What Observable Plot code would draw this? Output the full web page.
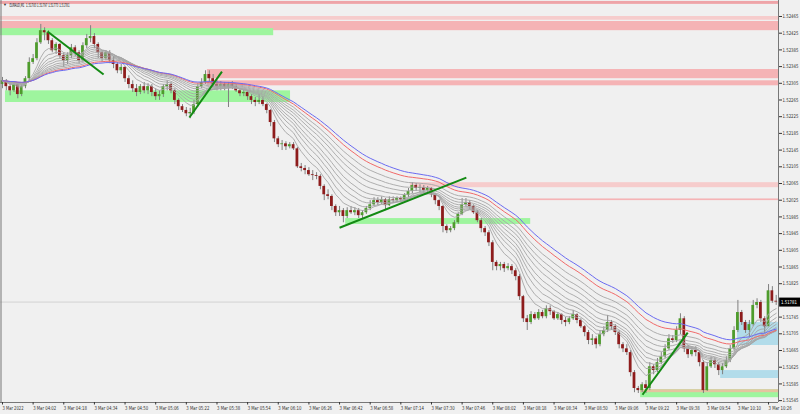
<!DOCTYPE html>
<html><head><meta charset="utf-8">
<script src="https://cdn.jsdelivr.net/npm/d3@7"></script>
<script src="https://cdn.jsdelivr.net/npm/@observablehq/plot@0.6"></script>
<style>body{margin:0;background:#f0f0f0;overflow:hidden}</style>
</head><body><div id="chart"></div>
<script>
const symbolTitle = "EURAUD,M1  1.51783 1.51797 1.51773 1.51781";
const firstOpen = 1.52302;
const closes = [
1.52311,1.52297,1.52287,1.52302,1.52278,1.52297,1.52316,1.52355,1.52364,1.52402,
1.52431,1.52426,1.52407,1.52383,1.52398,1.52371,1.52359,1.52371,1.52390,1.52378,
1.52359,1.52395,1.52412,1.52417,1.52398,1.52378,1.52364,1.52378,1.52359,1.52350,
1.52335,1.52343,1.52316,1.52302,1.52292,1.52283,1.52297,1.52287,1.52297,1.52283,
1.52273,1.52278,1.52297,1.52302,1.52287,1.52264,1.52249,1.52240,1.52232,1.52235,
1.52254,1.52297,1.52307,1.52326,1.52316,1.52302,1.52297,1.52302,1.52295,1.52302,
1.52297,1.52287,1.52280,1.52283,1.52273,1.52264,1.52259,1.52264,1.52254,1.52240,
1.52211,1.52172,1.52158,1.52160,1.52153,1.52158,1.52148,1.52105,1.52101,1.52096,
1.52086,1.52084,1.52082,1.52058,1.52038,1.52034,1.52010,1.51995,1.52000,1.51986,
1.52000,1.51995,1.52000,1.51988,1.51995,1.52005,1.52014,1.52024,1.52019,1.52026,
1.52012,1.52026,1.52024,1.52029,1.52026,1.52036,1.52046,1.52060,1.52053,1.52055,
1.52048,1.52053,1.52038,1.52024,1.52010,1.51962,1.51952,1.51957,1.51971,1.51991,
1.52014,1.52019,1.52010,1.51995,1.51976,1.51957,1.51947,1.51923,1.51876,1.51866,
1.51871,1.51861,1.51866,1.51856,1.51842,1.51794,1.51741,1.51732,1.51751,1.51741,
1.51756,1.51746,1.51765,1.51758,1.51741,1.51751,1.51737,1.51732,1.51741,1.51751,
1.51737,1.51722,1.51708,1.51689,1.51693,1.51679,1.51703,1.51713,1.51732,1.51722,
1.51708,1.51679,1.51669,1.51660,1.51612,1.51574,1.51569,1.51583,1.51574,1.51626,
1.51617,1.51636,1.51650,1.51669,1.51693,1.51689,1.51713,1.51741,1.51669,1.51655,
1.51665,1.51660,1.51636,1.51569,1.51626,1.51641,1.51631,1.51617,1.51626,1.51641,
1.51669,1.51713,1.51756,1.51732,1.51713,1.51727,1.51773,1.51780,1.51741,1.51722,
1.51808,1.51783,1.51781];
const highs = [
1.52319,1.52314,1.52304,1.52307,1.52307,1.52302,1.52321,1.52366,1.52374,1.52412,
1.52446,1.52438,1.52431,1.52412,1.52402,1.52400,1.52378,1.52378,1.52398,1.52395,
1.52383,1.52402,1.52422,1.52443,1.52424,1.52402,1.52383,1.52383,1.52383,1.52369,
1.52355,1.52350,1.52345,1.52323,1.52311,1.52302,1.52302,1.52307,1.52304,1.52302,
1.52292,1.52287,1.52302,1.52311,1.52307,1.52292,1.52268,1.52254,1.52247,1.52245,
1.52264,1.52304,1.52316,1.52335,1.52335,1.52326,1.52311,1.52309,1.52307,1.52307,
1.52309,1.52302,1.52292,1.52290,1.52287,1.52278,1.52271,1.52278,1.52273,1.52256,
1.52242,1.52216,1.52177,1.52168,1.52165,1.52163,1.52163,1.52151,1.52113,1.52108,
1.52103,1.52096,1.52091,1.52086,1.52062,1.52050,1.52038,1.52014,1.52010,1.52005,
1.52007,1.52010,1.52007,1.52005,1.52000,1.52010,1.52024,1.52031,1.52031,1.52033,
1.52029,1.52033,1.52033,1.52033,1.52033,1.52041,1.52053,1.52067,1.52065,1.52062,
1.52060,1.52058,1.52055,1.52041,1.52026,1.52012,1.51966,1.51962,1.51976,1.51995,
1.52029,1.52029,1.52024,1.52014,1.52000,1.51981,1.51962,1.51952,1.51928,1.51880,
1.51876,1.51876,1.51873,1.51871,1.51861,1.51847,1.51797,1.51749,1.51758,1.51756,
1.51763,1.51761,1.51772,1.51772,1.51761,1.51756,1.51753,1.51744,1.51746,1.51761,
1.51753,1.51741,1.51725,1.51713,1.51703,1.51698,1.51713,1.51722,1.51749,1.51737,
1.51727,1.51713,1.51684,1.51679,1.51665,1.51617,1.51579,1.51588,1.51593,1.51636,
1.51631,1.51646,1.51660,1.51679,1.51703,1.51701,1.51722,1.51753,1.51746,1.51677,
1.51674,1.51674,1.51665,1.51641,1.51636,1.51650,1.51648,1.51636,1.51634,1.51650,
1.51677,1.51722,1.51785,1.51761,1.51737,1.51737,1.51785,1.51789,1.51785,1.51746,
1.51823,1.51818,1.51797];
const lows = [
1.52292,1.52287,1.52275,1.52283,1.52268,1.52273,1.52292,1.52311,1.52350,1.52359,
1.52398,1.52407,1.52398,1.52378,1.52374,1.52364,1.52343,1.52350,1.52364,1.52369,
1.52352,1.52355,1.52388,1.52402,1.52388,1.52364,1.52355,1.52359,1.52352,1.52340,
1.52328,1.52326,1.52307,1.52292,1.52283,1.52273,1.52278,1.52280,1.52278,1.52273,
1.52264,1.52264,1.52271,1.52287,1.52280,1.52254,1.52240,1.52235,1.52225,1.52220,
1.52230,1.52249,1.52292,1.52302,1.52307,1.52295,1.52287,1.52287,1.52287,1.52247,
1.52290,1.52283,1.52273,1.52273,1.52264,1.52254,1.52249,1.52254,1.52249,1.52232,
1.52201,1.52163,1.52151,1.52144,1.52144,1.52148,1.52144,1.52101,1.52093,1.52086,
1.52082,1.52072,1.52074,1.52050,1.52024,1.52026,1.52000,1.51986,1.51986,1.51971,
1.51981,1.51991,1.51988,1.51981,1.51981,1.51991,1.52000,1.52010,1.52012,1.52014,
1.52000,1.52010,1.52017,1.52019,1.52019,1.52022,1.52031,1.52041,1.52046,1.52043,
1.52041,1.52038,1.52031,1.52014,1.52000,1.51947,1.51945,1.51947,1.51952,1.51967,
1.51988,1.52010,1.52002,1.51991,1.51971,1.51947,1.51938,1.51914,1.51856,1.51856,
1.51856,1.51852,1.51856,1.51847,1.51832,1.51785,1.51732,1.51713,1.51727,1.51737,
1.51737,1.51741,1.51741,1.51749,1.51737,1.51737,1.51727,1.51722,1.51727,1.51737,
1.51729,1.51718,1.51698,1.51679,1.51677,1.51669,1.51674,1.51698,1.51708,1.51713,
1.51701,1.51669,1.51660,1.51653,1.51602,1.51564,1.51562,1.51564,1.51562,1.51569,
1.51607,1.51612,1.51631,1.51646,1.51665,1.51682,1.51684,1.51703,1.51660,1.51646,
1.51650,1.51650,1.51626,1.51562,1.51567,1.51622,1.51622,1.51605,1.51607,1.51622,
1.51636,1.51665,1.51708,1.51725,1.51706,1.51696,1.51722,1.51765,1.51732,1.51706,
1.51722,1.51778,1.51773];

const timeLabels = ["3 Mar 2022","3 Mar 04:02","3 Mar 04:18","3 Mar 04:34","3 Mar 04:50","3 Mar 05:06",
"3 Mar 05:22","3 Mar 05:38","3 Mar 05:54","3 Mar 06:10","3 Mar 06:26","3 Mar 06:42","3 Mar 06:58",
"3 Mar 07:14","3 Mar 07:30","3 Mar 07:46","3 Mar 08:02","3 Mar 08:18","3 Mar 08:34","3 Mar 08:50",
"3 Mar 09:06","3 Mar 09:22","3 Mar 09:38","3 Mar 09:54","3 Mar 10:10","3 Mar 10:26"];
const barsPerLabel = 8;
const priceTicks = [1.52465,1.52425,1.52385,1.52345,1.52305,1.52265,1.52225,1.52185,1.52145,1.52105,
1.52065,1.52025,1.51985,1.51945,1.51905,1.51865,1.51825,1.51785,1.51745,1.51705,1.51665,1.51625,1.51585,1.51545];

// Moving average periods (in bars)
const grayPeriods = [7, 10, 13, 16, 19, 23, 27, 31, 36];
const redPeriod = 42;
const bluePeriod = 47;

// Zones (rectangles): bar start, bar end, top price, bottom price, kind
const zoneStart  = [-0.52, -0.52, -0.52, -0.52, 53.5, 53.5, 0.78, 106.5, 135.2, 89.6, 166.6, 166.6, 191.9, 187.5];
const zoneEnd    = [202.6, 202.6, 202.6, 70.8, 202.6, 202.6, 75.2, 202.6, 202.6, 137.9, 202.6, 202.6, 202.6, 202.6];
const zoneTop    = [1.52501,1.52465,1.52453,1.52436,1.52338,1.52311,1.52287,1.52067,1.52028,1.51981,1.51571,1.51571,1.51732,1.51617];
const zoneBottom = [1.52494,1.52456,1.52431,1.52419,1.52316,1.52299,1.52259,1.52055,1.52024,1.51967,1.51552,1.51564,1.51677,1.51598];
const zoneKind   = ["edge","light","resist","support","resist","resist","support","light","resist","support","support","mixed","demand","demand"];

// Trend lines: bar/price pairs
const trendStartBar = [11.75, 48.8, 88.0, 167.1];
const trendStartPrice = [1.52429, 1.52223, 1.51959, 1.51559];
const trendEndBar = [26.4, 57.3, 121.1, 178.9];
const trendEndPrice = [1.52326, 1.52333, 1.52079, 1.51708];

const xDomain = [-0.52, 202.6];
const yDomain = [1.515405, 1.525033];

const kindColor = {edge:"#eea4a8", light:"#f6cccc", resist:"#f5b3b5", support:"#9ef59e", mixed:"#e4c4a0", demand:"#b2dcea"};

const bars = closes.map((c, i) => ({i, o: i ? closes[i-1] : firstOpen, c, h: highs[i], l: lows[i]}));
const zones = zoneStart.map((s, k) => ({x1: s, x2: zoneEnd[k], y1: zoneTop[k], y2: zoneBottom[k], kind: zoneKind[k]}));
const trends = trendStartBar.map((s, k) => ({x1: s, y1: trendStartPrice[k], x2: trendEndBar[k], y2: trendEndPrice[k]}));

function ema(p) {
  const k = 2 / (p + 1); let e = closes[0];
  return closes.map((c, i) => ({i, v: (e = i ? e + k * (c - e) : c)}));
}
const lastClose = closes[closes.length - 1];
const labelBars = timeLabels.map((_, k) => k * barsPerLabel);
// the price tag hides the grid label it sits on, as in the terminal
const visibleTicks = priceTicks.filter(t => Math.abs(t - lastClose) > 0.0001);
const font = "'DejaVu Sans Condensed','Liberation Sans',sans-serif";

const marks = [
  Plot.rect(zones, {x1: "x1", x2: "x2", y1: "y1", y2: "y2", fill: d => kindColor[d.kind]}),
  Plot.ruleY([lastClose], {stroke: "#d2d2d2"}),
  Plot.ruleX(bars, {x: "i", y1: "l", y2: "h", stroke: "#808080", strokeWidth: 1}),
  Plot.rect(bars, {x1: d => d.i - 0.36, x2: d => d.i + 0.36, y1: "o", y2: "c",
    fill: d => d.c >= d.o ? "#4e9c2c" : "#8e1c1c"}),
];
grayPeriods.forEach(p => marks.push(Plot.line(ema(p), {x: "i", y: "v", stroke: "#a6a6a6", strokeWidth: 0.9})));
marks.push(Plot.line(ema(redPeriod), {x: "i", y: "v", stroke: "#f06a6a", strokeWidth: 1}));
marks.push(Plot.line(ema(bluePeriod), {x: "i", y: "v", stroke: "#6b6bf0", strokeWidth: 1}));
marks.push(
  Plot.link(trends, {x1: "x1", y1: "y1", x2: "x2", y2: "y2", stroke: "#138a13", strokeWidth: 2}),
  Plot.ruleX([xDomain[1]], {stroke: "#777"}),
  Plot.ruleX([xDomain[0]], {stroke: "#777", dx: 0.5}),
  Plot.ruleY([yDomain[0]], {stroke: "#777"}),
  Plot.axisY(visibleTicks, {anchor: "right", tickSize: 3, tickPadding: 1, label: null,
    tickFormat: d => d.toFixed(5), fontSize: 5, fontFamily: font, color: "#333"}),
  Plot.axisX(labelBars, {anchor: "bottom", tickSize: 2.5, tickPadding: 1, label: null, textAnchor: "start",
    tickFormat: d => timeLabels[d / barsPerLabel], fontSize: 5.5, fontFamily: font, color: "#333"}),
  Plot.ruleY([lastClose], {x1: xDomain[1] + 0.3, x2: xDomain[1] + 5.8, stroke: "#000", strokeWidth: 9}),
  Plot.text([lastClose], {x: xDomain[1], y: d => d, text: d => d.toFixed(5), dx: 2.5, textAnchor: "start",
    fill: "#fff", fontSize: 5, fontFamily: font, className: "price-tag"}),
  Plot.text(["\u25BC"], {frameAnchor: "top-left", dx: 2.5, dy: 3, fontSize: 4, textAnchor: "start", lineAnchor: "top", fill: "#333"}),
  Plot.text([symbolTitle], {frameAnchor: "top-left", dx: 9, dy: 3, fontSize: 5.5, textAnchor: "start", lineAnchor: "top",
    fill: "#111", fontFamily: font, className: "sym-title"})
);

const chart = Plot.plot({
  width: 800, height: 414,
  marginLeft: 0, marginRight: 22, marginTop: 0, marginBottom: 12,
  x: {domain: xDomain},
  y: {domain: yDomain},
  style: {background: "#f0f0f0", overflow: "visible"},
  marks
});
document.getElementById("chart").append(chart);

// compress the tiny terminal-style labels to their on-screen widths
const svg = d3.select(chart);
svg.selectAll('g[aria-label="y-axis tick label"] text').attr("textLength", 16).attr("lengthAdjust", "spacingAndGlyphs");
svg.selectAll('.price-tag text, text.price-tag').attr("textLength", 16).attr("lengthAdjust", "spacingAndGlyphs");
svg.selectAll('g[aria-label="x-axis tick label"] text').each(function() {
  const n = this.textContent.length;
  d3.select(this).attr("textLength", n * 2.1).attr("lengthAdjust", "spacingAndGlyphs");
});
svg.selectAll('.sym-title text, text.sym-title').attr("textLength", 60).attr("lengthAdjust", "spacingAndGlyphs");
</script>
</body></html>
